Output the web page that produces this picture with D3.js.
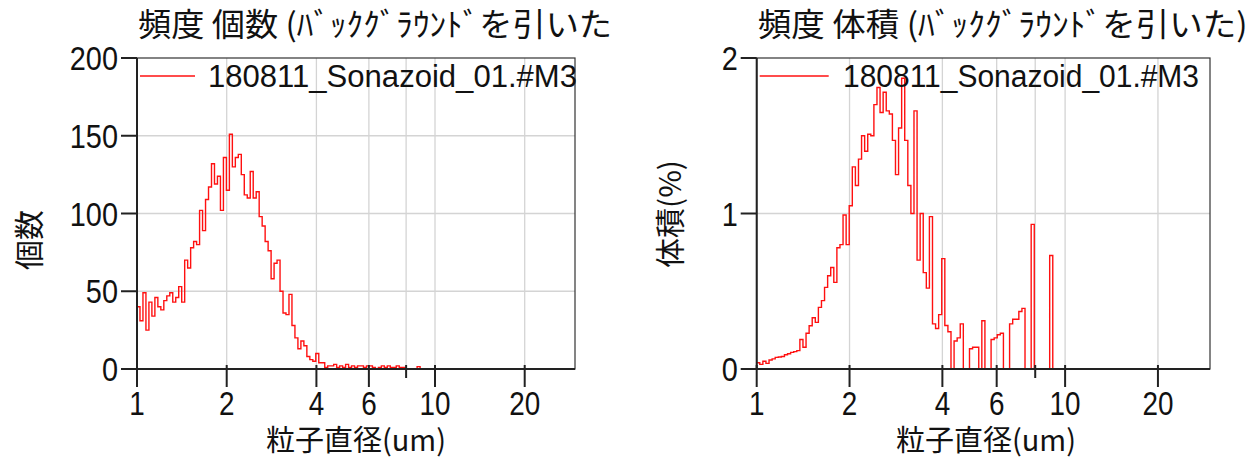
<!DOCTYPE html>
<html>
<head>
<meta charset="utf-8">
<script src="https://cdn.jsdelivr.net/npm/d3@7"></script>
<style>
  body { margin: 0; background: #fff; }
  text { fill: #111; }
</style>
</head>
<body>
<div id="chart"></div>
<script>
// histogram bins: 100 per decade starting at 1 um
const binStart = 1;
const binsPerDecade = 100;

const seriesName = "180811_Sonazoid_01.#M3";

// counts per bin (left panel)
const countValues = [
  40, 31, 49, 25, 43, 34, 46, 40, 38, 44,
  47, 49, 43, 46, 53, 43, 70, 65, 78, 82,
  80, 102, 89, 109, 117, 132, 119, 124, 102, 136,
  115, 151, 130, 136, 138, 125, 112, 110, 127, 110,
  114, 98, 92, 82, 76, 58, 68, 70, 50, 36,
  35, 48, 28, 20, 13, 18, 15, 8, 6, 5,
  10, 4, 4, 1, 2, 2, 3, 1, 2, 1,
  3, 1, 2, 1, 2, 2, 1, 2, 2, 1,
  0, 1, 2, 1, 2, 1, 1, 2, 1, 1,
  0, 0, 0, 0, 1.5, 0
];

// volume % per bin (right panel)
const volumeValues = [
  0.04, 0.03, 0.05, 0.036, 0.058, 0.065, 0.075, 0.077, 0.08, 0.092,
  0.098, 0.107, 0.112, 0.118, 0.19, 0.14, 0.23, 0.278, 0.33, 0.30,
  0.396, 0.44, 0.525, 0.6, 0.653, 0.557, 0.78, 0.80, 0.99, 0.80,
  1.05, 1.30, 1.18, 1.35, 1.50, 1.40, 1.51, 1.50, 1.70, 1.81,
  1.65, 1.78, 1.66, 1.64, 1.47, 1.25, 1.55, 1.87, 1.47, 1.18,
  1.0, 1.66, 0.70, 1.0, 0.62, 0.52, 0.98, 0.29, 0.26, 0.35,
  0.71, 0.28, 0.24, 0, 0.18, 0.2, 0.29, 0, 0, 0.13,
  0.14, 0.14, 0, 0.31, 0, 0, 0.19, 0.2, 0.22, 0.23,
  0, 0, 0.29, 0.32, 0.32, 0.37, 0.39, 0, 0, 0.93,
  0, 0, 0, 0, 0, 0.73, 0
];

const xTicks = [1, 2, 4, 6, 10, 20];
const xMinorTicks = [8];
const xGrid = [2, 4, 6, 8, 10, 20];
const countTicks = [0, 50, 100, 150, 200];
const volumeTicks = [0, 1, 2];

const numFont = "'Liberation Sans', Arial, sans-serif";
const jpFont = "'Noto Sans CJK JP', sans-serif";

var svg = d3.select("#chart")
  .append("svg")
    .attr("width", 1260)
    .attr("height", 459);

function drawPanel(p) {
  var x = d3.scaleLog()
    .domain([1, 29.5])
    .range([p.left, p.right]);
  var y = d3.scaleLinear()
    .domain(p.yDomain)
    .range([p.bottom, p.top]);

  var g = svg.append("g");

  // grid
  g.append("g").selectAll("line")
    .data(xGrid)
    .enter().append("line")
      .attr("x1", d => x(d)).attr("x2", d => x(d))
      .attr("y1", p.top).attr("y2", p.bottom)
      .attr("stroke", "#d4d4d4").attr("stroke-width", 1.3);
  g.append("g").selectAll("line")
    .data(p.yTicks.slice(1, -1))
    .enter().append("line")
      .attr("x1", p.left).attr("x2", p.right)
      .attr("y1", d => y(d)).attr("y2", d => y(d))
      .attr("stroke", "#d4d4d4").attr("stroke-width", 1.3);

  // histogram as step line
  var pts = p.values.map((v, i) => [binStart * Math.pow(10, i / binsPerDecade), v]);
  pts.push([binStart * Math.pow(10, p.values.length / binsPerDecade), p.values[p.values.length - 1]]);
  var line = d3.line()
    .x(d => x(d[0]))
    .y(d => y(d[1]))
    .curve(d3.curveStepAfter);
  g.append("path")
    .datum(pts)
    .attr("fill", "none")
    .attr("stroke", "#ff1010")
    .attr("stroke-width", 1.4)
    .attr("d", line);

  // frame
  g.append("rect")
    .attr("x", p.left).attr("y", p.top)
    .attr("width", p.right - p.left).attr("height", p.bottom - p.top)
    .attr("fill", "none").attr("stroke", "#333").attr("stroke-width", 1.2);
  g.append("line")
    .attr("x1", p.left).attr("x2", p.right)
    .attr("y1", p.bottom).attr("y2", p.bottom)
    .attr("stroke", "#222").attr("stroke-width", 2);
  g.append("line")
    .attr("x1", p.left).attr("x2", p.left)
    .attr("y1", p.top).attr("y2", p.bottom)
    .attr("stroke", "#222").attr("stroke-width", 2);

  // x ticks
  g.append("g").selectAll("line")
    .data(xTicks)
    .enter().append("line")
      .attr("x1", d => x(d)).attr("x2", d => x(d))
      .attr("y1", p.bottom - 4).attr("y2", p.bottom + 18)
      .attr("stroke", "#222").attr("stroke-width", 2);
  g.append("g").selectAll("line")
    .data(xMinorTicks)
    .enter().append("line")
      .attr("x1", d => x(d)).attr("x2", d => x(d))
      .attr("y1", p.bottom - 4).attr("y2", p.bottom + 9)
      .attr("stroke", "#222").attr("stroke-width", 2);
  g.append("g").selectAll("text")
    .data(xTicks)
    .enter().append("text")
      .attr("transform", d => "translate(" + x(d) + "," + (p.bottom + 46) + ") scale(0.82,1)")
      .attr("text-anchor", "middle")
      .style("font-family", numFont)
      .style("font-size", "34px")
      .text(d => d);

  // y ticks
  g.append("g").selectAll("line")
    .data(p.yTicks)
    .enter().append("line")
      .attr("x1", p.left - 16).attr("x2", p.left)
      .attr("y1", d => y(d)).attr("y2", d => y(d))
      .attr("stroke", "#222").attr("stroke-width", 2);
  g.append("g").selectAll("text")
    .data(p.yTicks)
    .enter().append("text")
      .attr("transform", d => "translate(" + (p.left - 19) + "," + (y(d) + 12) + ") scale(0.85,1)")
      .attr("text-anchor", "end")
      .style("font-family", numFont)
      .style("font-size", "34px")
      .text(d => d);

  // title
  g.append("text")
    .attr("x", p.left + 1)
    .attr("y", 36)
    .attr("textLength", p.titleLen)
    .attr("lengthAdjust", "spacingAndGlyphs")
    .style("font-family", jpFont)
    .style("font-size", "32px")
    .text(p.title);

  // legend
  g.append("line")
    .attr("x1", p.left + 3).attr("x2", p.left + p.legLine)
    .attr("y1", 76).attr("y2", 76)
    .attr("stroke", "#ff1010").attr("stroke-width", 1.4);
  g.append("text")
    .attr("x", p.legText)
    .attr("y", 87)
    .attr("textLength", p.legLen)
    .attr("lengthAdjust", "spacingAndGlyphs")
    .style("font-family", numFont)
    .style("font-size", "31px")
    .text(seriesName);

  // axis labels
  g.append("text")
    .attr("x", p.xLabelX)
    .attr("y", 451)
    .attr("text-anchor", "middle")
    .style("font-family", jpFont)
    .style("font-size", "29px")
    .text("粒子直径(um)");
  g.append("text")
    .attr("transform", "translate(" + p.yLabelX + "," + p.yLabelY + ") rotate(-90)")
    .attr("text-anchor", "middle")
    .style("font-family", jpFont)
    .style("font-size", "30px")
    .text(p.yLabel);
}

drawPanel({
  left: 137, right: 575, top: 58, bottom: 369,
  yDomain: [0, 200], yTicks: countTicks, values: countValues,
  title: "頻度 個数 (ﾊﾞｯｸｸﾞﾗｳﾝﾄﾞを引いた", titleLen: 474,
  legLine: 58, legText: 208, legLen: 369,
  xLabelX: 356, yLabelX: 40, yLabelY: 240, yLabel: "個数"
});

drawPanel({
  left: 756.7, right: 1210, top: 58, bottom: 369,
  yDomain: [0, 2], yTicks: volumeTicks, values: volumeValues,
  title: "頻度 体積 (ﾊﾞｯｸｸﾞﾗｳﾝﾄﾞを引いた)", titleLen: 490,
  legLine: 72, legText: 843, legLen: 356,
  xLabelX: 986, yLabelX: 681, yLabelY: 214, yLabel: "体積(%)"
});
</script>
</body>
</html>
